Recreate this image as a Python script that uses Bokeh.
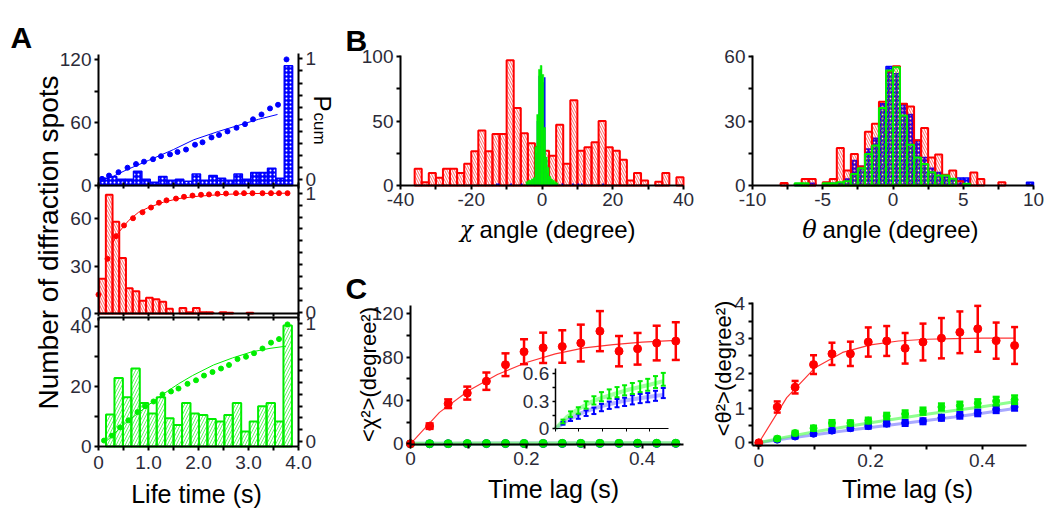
import math
from bokeh.plotting import figure
from bokeh.models import Range1d, LinearAxis, FixedTicker, Label
from bokeh.embed import file_html
from bokeh.resources import INLINE

# ---------------- data ----------------
# Panel A : life-time histograms (first bin start, bin width, counts)
life_blue_start, life_blue_width = 0.03, 0.1675
life_blue_counts = [7, 8.6, 6, 6, 13.6, 6, 3, 8.6, 5, 6, 4, 11, 5, 9.5, 7, 5, 11, 6, 12.4, 12.4, 16.5, 7, 114]
life_red_start, life_red_width = 0.013, 0.134
life_red_counts = [22, 75, 58, 35, 16, 14, 8, 10, 9, 7.5, 3, 0, 3.4, 0.8, 3.4, 0.8, 0.8, 0, 0.8, 0.5, 0, 0, 0.5]
life_green_start, life_green_width = 0.15, 0.169
life_green_counts = [10.7, 22.8, 16.4, 26, 14.5, 11, 16.4, 9.4, 7.2, 14.5, 11, 10.5, 9.2, 8.3, 10.5, 14.5, 5, 8.3, 13.4, 14.5, 8.3, 40.3]

# Panel A : cumulative probability (dots) and fits (lines)
cum_blue_t = [0.07, 0.21, 0.40, 0.58, 0.75, 0.91, 1.09, 1.25, 1.43, 1.58, 1.75, 1.93, 2.08, 2.26, 2.41, 2.58, 2.76, 2.93, 3.09, 3.26, 3.43, 3.59, 3.76]
cum_blue = [0.008, 0.035, 0.063, 0.10, 0.13, 0.15, 0.17, 0.195, 0.21, 0.23, 0.25, 0.29, 0.31, 0.35, 0.37, 0.40, 0.43, 0.46, 0.50, 0.54, 0.59, 0.62, 0.995]
cum_red_t = [0.0, 0.18, 0.35, 0.51, 0.69, 0.88, 1.05, 1.21, 1.36, 1.55, 1.71, 1.88, 2.05, 2.21, 2.38, 2.55, 2.75, 2.91, 3.08, 3.28, 3.45, 3.61, 3.78]
cum_red = [0.15, 0.45, 0.64, 0.73, 0.79, 0.84, 0.88, 0.92, 0.94, 0.955, 0.97, 0.98, 0.987, 0.99, 0.995, 0.997, 1.0, 1.0, 1.0, 1.0, 1.0, 1.0, 1.0]
cum_green_t = [0.11, 0.27, 0.43, 0.60, 0.78, 0.93, 1.10, 1.28, 1.45, 1.60, 1.78, 1.95, 2.11, 2.28, 2.45, 2.61, 2.78, 2.95, 3.11, 3.28, 3.45, 3.61, 3.78]
cum_green = [0.008, 0.05, 0.12, 0.18, 0.25, 0.30, 0.34, 0.40, 0.425, 0.45, 0.49, 0.52, 0.56, 0.59, 0.62, 0.65, 0.70, 0.72, 0.75, 0.79, 0.84, 0.87, 0.995]
fit_blue_t = [0.3, 0.55, 1.0, 1.5, 1.9, 2.4, 2.8, 3.2, 3.58]
fit_blue = [0.03, 0.08, 0.16, 0.25, 0.33, 0.40, 0.45, 0.50, 0.54]
fit_red_t = [0.28, 0.4, 0.6, 0.8, 1.0, 1.3, 1.6, 2.0, 2.5, 3.0, 3.8]
fit_red = [0.58, 0.67, 0.77, 0.84, 0.88, 0.925, 0.955, 0.975, 0.99, 0.997, 1.0]
fit_green_t = [0.15, 0.55, 1.0, 1.25, 1.6, 1.88, 2.3, 2.68, 3.05, 3.41, 3.75]
fit_green = [0.0, 0.16, 0.31, 0.39, 0.49, 0.56, 0.65, 0.71, 0.76, 0.79, 0.81]

# Panel B : chi angle histograms
chi_red_start, chi_red_width = -36, 2
chi_red_counts = [12.9, 2.6, 9.6, 6, 12.9, 12.9, 9.6, 16.8, 26.6, 42.6, 26.6, 40, 40, 97, 60, 40.5, 32.8, 30, 27, 23,
                  47, 16.8, 66, 27, 29.7, 33.6, 50, 29.7, 27, 20, 3.9, 9.6, 3.9, 0, 3, 9.6, 0, 6.4]
chi_fine_start, chi_fine_width = -4.5, 0.5
chi_green_counts = [3, 4, 4, 5, 6, 30, 55, 90, 93, 86, 45, 22, 14, 7, 5, 4, 3, 2]
chi_blue_counts = [2, 3, 3, 4, 5, 25, 50, 85, 90, 80, 84, 20, 10, 5, 3, 2, 2, 1]
chi_blue_tail_deg = [-13.0, -12.5, -9.0, -6.0, 5.5, 8.5, 10.0, 11.0, 17.0]
chi_blue_tail_counts = [1.5, 1.5, 1.5, 1.5, 1.5, 1.5, 1.5, 1.5, 1.5]

# Panel B : theta angle histograms (bins of 0.5 degree from -8)
theta_start, theta_width = -8, 0.5
theta_red_counts = [1.2, 0, 0, 3, 3, 0, 1.5, 3, 17.5, 7, 14.7, 8.8, 25, 28.7, 39, 53, 55.5, 38, 36.7, 21,
                    26.8, 13, 14.4, 5, 7, 2, 0, 6, 3, 0, 0, 1.5, 0, 0, 0, 0]
theta_blue_counts = [0, 0, 0.5, 0, 1, 0, 0.5, 1, 1, 3, 11.6, 9, 17, 22, 38, 55.3, 52, 38, 33, 21,
                     13, 8, 6, 4, 3, 3.5, 3.5, 0, 0, 0, 0, 0, 0, 0, 0, 1.5]
theta_green_counts = [0, 0, 1, 1, 0, 0, 1, 1, 1.5, 2, 5.4, 8, 14.7, 18.6, 36, 53.5, 55, 32.6, 19, 13,
                      10, 6.2, 4.7, 4.7, 3.1, 0, 0.8, 0, 0, 0, 0, 0, 0, 0, 0, 0]

# Panel C : mean square displacements
lag = [0, 0.033, 0.065, 0.098, 0.131, 0.164, 0.196, 0.229, 0.262, 0.294, 0.327, 0.36, 0.392, 0.425, 0.458]
chi_red_msd = [0, 16.3, 37, 46.8, 57.8, 73, 85, 88.6, 89.8, 93, 104, 85.5, 87.7, 93, 94.8]
chi_red_err = [0, 2.5, 4, 6, 8, 10.5, 11.5, 14, 15, 17, 18.5, 14, 14.6, 16, 17.4]
chi_green_msd = [0, 0.08, 0.16, 0.20, 0.26, 0.31, 0.35, 0.38, 0.40, 0.42, 0.44, 0.46, 0.48, 0.51, 0.54]
chi_green_err = [0, 0.02, 0.03, 0.035, 0.04, 0.045, 0.05, 0.05, 0.055, 0.055, 0.06, 0.06, 0.065, 0.065, 0.07]
chi_blue_msd = [0, 0.06, 0.105, 0.134, 0.17, 0.196, 0.232, 0.257, 0.28, 0.294, 0.316, 0.33, 0.34, 0.36, 0.39]
chi_blue_err = [0, 0.015, 0.02, 0.025, 0.03, 0.035, 0.04, 0.04, 0.045, 0.045, 0.05, 0.05, 0.05, 0.055, 0.055]
theta_red_msd = [0, 1.03, 1.6, 2.25, 2.56, 2.56, 2.9, 2.93, 2.72, 2.9, 3.01, 3.18, 3.28, 2.94, 2.8]
theta_red_err = [0, 0.16, 0.18, 0.27, 0.32, 0.35, 0.42, 0.43, 0.44, 0.53, 0.58, 0.6, 0.66, 0.52, 0.53]
theta_green_msd = [0, 0.12, 0.28, 0.42, 0.57, 0.57, 0.64, 0.77, 0.83, 0.91, 1.03, 1.07, 1.14, 1.2, 1.24]
theta_green_err = [0, 0.05, 0.06, 0.07, 0.08, 0.07, 0.08, 0.09, 0.1, 0.1, 0.1, 0.11, 0.11, 0.12, 0.12]
theta_blue_msd = [0, 0.09, 0.18, 0.26, 0.35, 0.42, 0.48, 0.55, 0.57, 0.62, 0.72, 0.79, 0.86, 0.96, 1.03]
theta_blue_err = [0, 0.04, 0.05, 0.05, 0.06, 0.06, 0.07, 0.07, 0.08, 0.08, 0.08, 0.09, 0.09, 0.1, 0.1]
msd_fit_t = [0, 0.05, 0.1, 0.15, 0.2, 0.25, 0.3, 0.35, 0.4, 0.458]
chi_red_fit = [0, 29, 49, 64, 75, 83, 88.5, 91.5, 93.8, 95.4]
chi_green_fit = [0, 0.13, 0.22, 0.29, 0.34, 0.38, 0.42, 0.45, 0.48, 0.52]
chi_blue_fit = [0, 0.09, 0.16, 0.21, 0.25, 0.28, 0.31, 0.33, 0.35, 0.37]
theta_red_fit = [0, 1.3, 2.15, 2.6, 2.82, 2.93, 2.98, 3.0, 3.01, 3.01]
theta_green_fit = [0, 0.17, 0.32, 0.45, 0.58, 0.70, 0.82, 0.93, 1.04, 1.18]
theta_blue_fit = [0, 0.12, 0.23, 0.34, 0.44, 0.54, 0.64, 0.74, 0.85, 0.99]

# tick labels
a_x_ticks, a_x_labels = [0, 1, 2, 3, 4], ["0", "1.0", "2.0", "3.0", "4.0"]
a1_ticks, a1_labels = [0, 60, 120], ["0", "60", "120"]
a2_ticks, a2_labels = [0, 30, 60], ["0", "30", "60"]
a3_ticks, a3_labels = [0, 20, 40], ["0", "20", "40"]
pcum_ticks, pcum_labels = [0, 1], ["0", "1"]
b1_x_ticks, b1_x_labels = [-40, -20, 0, 20, 40], ["-40", "-20", "0", "20", "40"]
b1_y_ticks, b1_y_labels = [0, 50, 100], ["0", "50", "100"]
b2_x_ticks, b2_x_labels = [-10, -5, 0, 5, 10], ["-10", "-5", "0", "5", "10"]
b2_y_ticks, b2_y_labels = [0, 30, 60], ["0", "30", "60"]
c_x_ticks, c_x_labels = [0, 0.2, 0.4], ["0", "0.2", "0.4"]
c1_y_ticks, c1_y_labels = [0, 40, 80, 120], ["0", "40", "80", "120"]
in_y_ticks, in_y_labels = [0, 0.3, 0.6], ["0", "0.3", "0.6"]
c2_y_ticks, c2_y_labels = [0, 1, 2, 3, 4], ["0", "1", "2", "3", "4"]

RED, GREEN, BLUE = "#ff0000", "#00ee00", "#0000ff"
FONT = "Liberation Sans"
TICK_COLOR = "#2b2b38"

# ---------------- figure ----------------
W, H = 1047, 508
OX, OY = 0, 0
p = figure(width=W, height=H, x_range=Range1d(OX, OX + W), y_range=Range1d(OY + H, OY),
           x_axis_type=None, y_axis_type=None, output_backend="svg", toolbar_location=None,
           min_border=0, title=None)
p.outline_line_color = None
p.background_fill_color = "white"
p.border_fill_color = "white"


def xrange_(d0, d1, p0, p1):
    k = (d1 - d0) / (p1 - p0)
    return Range1d(start=d0 - (p0 - OX) * k, end=d0 + (OX + W - p0) * k)


def yrange_(d0, d1, q0, q1):
    k = (d1 - d0) / (q0 - q1)
    return Range1d(start=d0 - (OY + H - q0) * k, end=d0 + (q0 - OY) * k)


p.extra_x_ranges = {
    "ax": xrange_(0, 4, 98, 298),
    "b1x": xrange_(-40, 40, 400, 683),
    "b2x": xrange_(-10, 10, 752, 1033),
    "c1x": xrange_(0, 0.4, 410, 641.7),
    "inx": xrange_(0, 0.4, 554.7, 649.1),
    "c2x": xrange_(0, 0.4, 758.3, 981.7),
}
p.extra_y_ranges = {
    "a1": yrange_(0, 120, 185, 59),
    "a1p": yrange_(0, 1, 179.3, 58.3),
    "a2": yrange_(0, 60, 313, 218),
    "a2p": yrange_(0, 1, 312, 192.7),
    "a3": yrange_(0, 40, 446, 326),
    "a3p": yrange_(0, 1, 441, 323.3),
    "b1y": yrange_(0, 100, 185, 56),
    "b2y": yrange_(0, 60, 185, 56),
    "c1y": yrange_(0, 120, 443.3, 313.3),
    "iny": yrange_(0, 0.6, 428.3, 373.3),
    "c2y": yrange_(0, 4, 442.3, 303.3),
}


def add_axis(side, xn, yn, loc, bounds, ticks, labels=None, minor=(), tick_out=4, tick_in=0,
             lw=2, size="19px", standoff=3):
    ax = LinearAxis(x_range_name=xn, y_range_name=yn, fixed_location=loc, bounds=bounds,
                    ticker=FixedTicker(ticks=list(ticks), minor_ticks=list(minor)))
    ax.axis_line_width = lw
    ax.axis_line_color = "black"
    ax.major_tick_line_width = lw
    ax.minor_tick_line_width = lw
    ax.major_tick_out = tick_out
    ax.major_tick_in = tick_in
    ax.minor_tick_out = tick_out
    ax.minor_tick_in = tick_in
    ax.major_label_text_font = FONT
    ax.major_label_text_font_size = size
    ax.major_label_text_color = TICK_COLOR
    ax.major_label_standoff = standoff
    if labels is None:
        ax.major_label_text_color = None
    else:
        ax.major_label_overrides = {t: s for t, s in zip(ticks, labels)}
    p.add_layout(ax, side)
    return ax


def bars(start, width, counts, xn, yn, **kw):
    idx = [i for i, c in enumerate(counts) if c > 0]
    left = [start + i * width for i in idx]
    right = [start + (i + 1) * width for i in idx]
    top = [counts[i] for i in idx]
    p.quad(left=left, right=right, bottom=[0] * len(idx), top=top,
           x_range_name=xn, y_range_name=yn, **kw)


def errbars(t, v, e, xn, yn, color, lw=2, cap=8, alpha=1.0):
    tt = [a for a, b in zip(t, e) if b > 0]
    lo = [a - b for a, b in zip(v, e) if b > 0]
    hi = [a + b for a, b in zip(v, e) if b > 0]
    p.segment(x0=tt, y0=lo, x1=tt, y1=hi, line_color=color, line_width=lw, line_alpha=alpha,
              x_range_name=xn, y_range_name=yn)
    for yy in (lo, hi):
        p.scatter(tt, yy, marker="dash", size=cap, line_color=color, line_width=lw, line_alpha=alpha,
                  x_range_name=xn, y_range_name=yn)


def text(x, y, s, size, angle=0.0, bold=False, italic=False, align="center", baseline="middle",
         font=FONT):
    style = "bold" if bold else ("italic" if italic else "normal")
    p.add_layout(Label(x=x, y=y, text=s, text_font=font, text_font_size=f"{size}px", angle=angle,
                       text_align=align, text_baseline=baseline, text_font_style=style,
                       text_color="black"))


# ---------------- Panel A ----------------
hatch_red = dict(fill_color="white", fill_alpha=0.0, line_color=RED, line_width=2,
                 hatch_pattern="\\", hatch_color=RED, hatch_alpha=0.6, hatch_scale=5, hatch_weight=1)
hatch_green = dict(fill_color="white", fill_alpha=0.0, line_color=GREEN, line_width=2,
                   hatch_pattern="/", hatch_color=GREEN, hatch_alpha=0.6, hatch_scale=6, hatch_weight=1)
dotted_blue = dict(fill_color=BLUE, line_color=BLUE, line_width=1.5,
                   hatch_pattern=".", hatch_color="white", hatch_scale=4, hatch_weight=1.4)

bars(life_blue_start, life_blue_width, life_blue_counts, "ax", "a1", **dotted_blue)
p.line(fit_blue_t, fit_blue, line_color=BLUE, line_width=1, x_range_name="ax", y_range_name="a1p")
p.scatter(cum_blue_t, cum_blue, size=5, color=BLUE, x_range_name="ax", y_range_name="a1p")

bars(life_red_start, life_red_width, life_red_counts, "ax", "a2", **hatch_red)
p.line(fit_red_t, fit_red, line_color=RED, line_width=1, x_range_name="ax", y_range_name="a2p")
p.scatter(cum_red_t, cum_red, size=5, color=RED, x_range_name="ax", y_range_name="a2p")

bars(life_green_start, life_green_width, life_green_counts, "ax", "a3", **hatch_green)
p.line(fit_green_t, fit_green, line_color=GREEN, line_width=1, x_range_name="ax", y_range_name="a3p")
p.scatter(cum_green_t, cum_green, size=5, color=GREEN, x_range_name="ax", y_range_name="a3p")

half_ticks = [0.5, 1.5, 2.5, 3.5]
pc_minor = [0.1, 0.2, 0.3, 0.4, 0.5, 0.6, 0.7, 0.8, 0.9]
# top subplot
add_axis("left", "ax", "a1", 0, (0, 124.7), a1_ticks, a1_labels, minor=[30, 90])
add_axis("right", "ax", "a1p", 4, (-0.047, 1.04), pcum_ticks, pcum_labels, minor=pc_minor, tick_out=4)
add_axis("below", "ax", "a1", 0, (0, 4), a_x_ticks, None, minor=half_ticks, tick_out=3, tick_in=3)
# middle subplot
add_axis("left", "ax", "a2", 0, (0, 80.8), a2_ticks, a2_labels)
add_axis("right", "ax", "a2p", 4, (-0.008, 1.064), pcum_ticks, pcum_labels, minor=pc_minor)
add_axis("below", "ax", "a2", 0, (0, 4), a_x_ticks, None, minor=half_ticks, tick_out=3)
# bottom subplot
add_axis("left", "ax", "a3", 0, (0, 43), a3_ticks, a3_labels, minor=[10, 30])
add_axis("right", "ax", "a3p", 4, (-0.042, 1.096), pcum_ticks, pcum_labels, minor=pc_minor)
add_axis("above", "ax", "a3", 43, (0, 4), a_x_ticks, None, minor=half_ticks, tick_out=0, tick_in=3)
add_axis("below", "ax", "a3", 0, (0, 4), a_x_ticks, a_x_labels, minor=half_ticks, tick_out=4, standoff=5)

# ---------------- Panel B ----------------
bars(chi_red_start, chi_red_width, chi_red_counts, "b1x", "b1y", **hatch_red)
p.quad(left=chi_blue_tail_deg, right=[d + 0.5 for d in chi_blue_tail_deg], bottom=[0] * len(chi_blue_tail_deg),
       top=chi_blue_tail_counts, fill_color=BLUE, line_color=None, x_range_name="b1x", y_range_name="b1y")
bars(chi_fine_start, chi_fine_width, chi_blue_counts, "b1x", "b1y", fill_color=BLUE, line_color=None)
bars(chi_fine_start, chi_fine_width, chi_green_counts, "b1x", "b1y", fill_color=GREEN, line_color=GREEN, line_width=0.5)
add_axis("left", "b1x", "b1y", -40, (0, 100.8), b1_y_ticks, b1_y_labels, minor=[25, 75])
add_axis("below", "b1x", "b1y", 0, (-40, 40), b1_x_ticks, b1_x_labels, minor=[-30, -10, 10, 30], standoff=3)

bars(theta_start, theta_width, theta_blue_counts, "b2x", "b2y", **dotted_blue)
bars(theta_start, theta_width, theta_red_counts, "b2x", "b2y", **hatch_red)
bars(theta_start, theta_width, theta_green_counts, "b2x", "b2y", **hatch_green)
add_axis("left", "b2x", "b2y", -10, (0, 60.5), b2_y_ticks, b2_y_labels, minor=[15, 45])
add_axis("below", "b2x", "b2y", 0, (-10, 10), b2_x_ticks, b2_x_labels, minor=[-7.5, -2.5, 2.5, 7.5], standoff=3)

# ---------------- Panel C (chi) ----------------
p.line(msd_fit_t, chi_blue_fit, line_color="#8080ff", line_width=4, line_alpha=0.6, x_range_name="c1x", y_range_name="c1y")
p.line(msd_fit_t, chi_green_fit, line_color="#80ff80", line_width=4, line_alpha=0.8, x_range_name="c1x", y_range_name="c1y")
p.scatter(lag, chi_blue_msd, size=8, color=BLUE, x_range_name="c1x", y_range_name="c1y")
p.scatter(lag, chi_green_msd, size=8, color=GREEN, x_range_name="c1x", y_range_name="c1y")
p.line(msd_fit_t, chi_red_fit, line_color=RED, line_width=1.2, line_alpha=0.8, x_range_name="c1x", y_range_name="c1y")
errbars(lag, chi_red_msd, chi_red_err, "c1x", "c1y", RED, lw=2.5, cap=8)
p.scatter(lag, chi_red_msd, size=8, color=RED, x_range_name="c1x", y_range_name="c1y")
add_axis("left", "c1x", "c1y", 0, (-0.5, 128), c1_y_ticks, c1_y_labels, minor=[20, 60, 100])
add_axis("below", "c1x", "c1y", -0.5, (0, 0.471), c_x_ticks, c_x_labels, minor=[0.1, 0.3], standoff=4)

# inset
p.line(msd_fit_t, chi_blue_fit, line_color="#7070ff", line_width=4, line_alpha=0.5, x_range_name="inx", y_range_name="iny")
p.line(msd_fit_t, chi_green_fit, line_color="#60ff60", line_width=4, line_alpha=0.6, x_range_name="inx", y_range_name="iny")
errbars(lag, chi_blue_msd, chi_blue_err, "inx", "iny", BLUE, lw=2, cap=5)
errbars(lag, chi_green_msd, chi_green_err, "inx", "iny", GREEN, lw=2, cap=5)
add_axis("left", "inx", "iny", 0, (0, 0.655), in_y_ticks, in_y_labels, minor=[0.15, 0.45], lw=1.5, tick_out=3)
add_axis("below", "inx", "iny", 0, (0, 0.48), [0, 0.1, 0.2, 0.3, 0.4], None, lw=1, tick_out=3)

# ---------------- Panel C (theta) ----------------
p.line(msd_fit_t, theta_blue_fit, line_color="#7070ff", line_width=3, line_alpha=0.6, x_range_name="c2x", y_range_name="c2y")
p.line(msd_fit_t, theta_green_fit, line_color="#60ff60", line_width=3, line_alpha=0.7, x_range_name="c2x", y_range_name="c2y")
p.line(msd_fit_t, theta_red_fit, line_color=RED, line_width=1.2, line_alpha=0.8, x_range_name="c2x", y_range_name="c2y")
errbars(lag, theta_blue_msd, theta_blue_err, "c2x", "c2y", BLUE, lw=2.5, cap=7)
p.scatter(lag, theta_blue_msd, size=7, color=BLUE, x_range_name="c2x", y_range_name="c2y")
errbars(lag, theta_green_msd, theta_green_err, "c2x", "c2y", GREEN, lw=2.5, cap=7)
p.scatter(lag, theta_green_msd, size=7, color=GREEN, x_range_name="c2x", y_range_name="c2y")
errbars(lag, theta_red_msd, theta_red_err, "c2x", "c2y", RED, lw=2.5, cap=7)
p.scatter(lag, theta_red_msd, size=8, color=RED, x_range_name="c2x", y_range_name="c2y")
add_axis("left", "c2x", "c2y", -0.012, (-0.086, 4.05), c2_y_ticks, c2_y_labels, minor=[0.5, 1.5, 2.5, 3.5])
add_axis("below", "c2x", "c2y", -0.086, (-0.012, 0.48), c_x_ticks, c_x_labels, minor=[0.1, 0.3], standoff=4)

# ---------------- texts ----------------
text(10, 37, "A", 30, bold=True, align="left", baseline="alphabetic")
text(345, 40, "B", 30, bold=True, align="left", baseline="alphabetic")
text(345, 288, "C", 30, bold=True, align="left", baseline="alphabetic")
text(48, 242, "Number of diffraction spots", 28, angle=math.pi / 2)
text(322, 103, "P", 24, angle=-math.pi / 2)
text(319, 128, "cum", 17, angle=-math.pi / 2)
text(196, 493, "Life time (s)", 25)
text(466, 229, "χ", 22, italic=True, font="DejaVu Serif")
text(479, 229, "angle (degree)", 24, align="left")
text(809, 229, "θ", 24, italic=True, font="DejaVu Serif")
text(822, 229, "angle (degree)", 24, align="left")
text(553, 488, "Time lag (s)", 25)
text(907, 488, "Time lag (s)", 25)
text(368, 374, "<χ²>(degree²)", 22, angle=math.pi / 2)
text(723, 368, "<θ²>(degree²)", 22, angle=math.pi / 2)

open("out.html", "w").write(file_html(p, INLINE))
